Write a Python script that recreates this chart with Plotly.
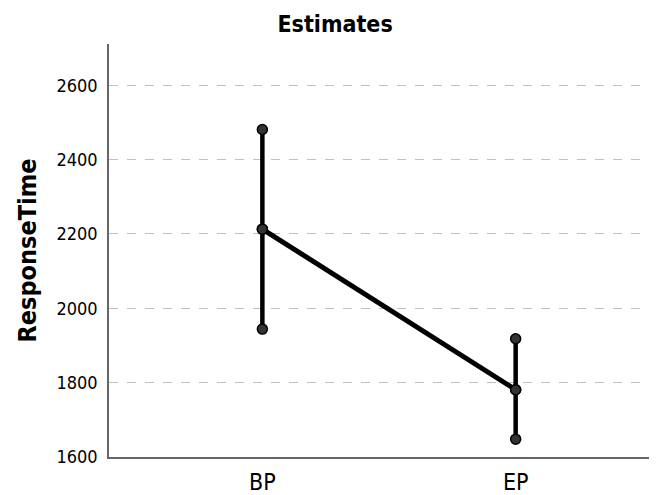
import plotly.graph_objects as go

categories = ["BP", "EP"]
means = [2213, 1781]
lower = [1944, 1648]
upper = [2481, 1918]
y_ticks = [1600, 1800, 2000, 2200, 2400, 2600]

FONT = "DejaVu Sans Condensed, Liberation Sans Narrow, Open Sans, sans-serif"
MARKER = dict(size=10, color="#333333", line=dict(color="black", width=1.5))

fig = go.Figure()

# error bars as vertical segments with end markers
for c, lo, hi, m in zip(categories, lower, upper, means):
    fig.add_trace(go.Scatter(
        x=[c, c, c], y=[lo, m, hi], mode="lines+markers",
        line=dict(color="black", width=4.5),
        marker=MARKER, showlegend=False, hoverinfo="skip"))

# mean line
fig.add_trace(go.Scatter(
    x=categories, y=means, mode="lines+markers",
    line=dict(color="black", width=5),
    marker=MARKER, showlegend=False))

# page body has an 8px margin, so the figure is sized/offset to compensate
fig.update_layout(
    width=649, height=487,
    margin=dict(l=100.5, r=0, t=36, b=35),
    paper_bgcolor="white", plot_bgcolor="white",
    title=dict(text="<b>Estimates</b>", x=0.504, xanchor="center", y=0.967, yanchor="middle",
               font=dict(family=FONT, size=23, color="black")),
    xaxis=dict(type="category", range=[-0.6055, 1.558], showgrid=False,
               showline=True, linecolor="#666666", linewidth=1.5,
               ticks="", tickfont=dict(family=FONT, size=23, color="black"),
               ticklabelstandoff=4),
    yaxis=dict(range=[1600, 2711], tickvals=y_ticks, showgrid=True,
               gridcolor="#c0c0c0", griddash="dash", gridwidth=1,
               showline=True, linecolor="#666666", linewidth=1.5,
               ticks="", zeroline=False,
               tickfont=dict(family=FONT, size=18, color="black"),
               ticklabelstandoff=6,
               title=dict(text="<b>ResponseTime</b>", standoff=13,
                          font=dict(family=FONT, size=25, color="black"))),
)

fig.write_html("out.html")
